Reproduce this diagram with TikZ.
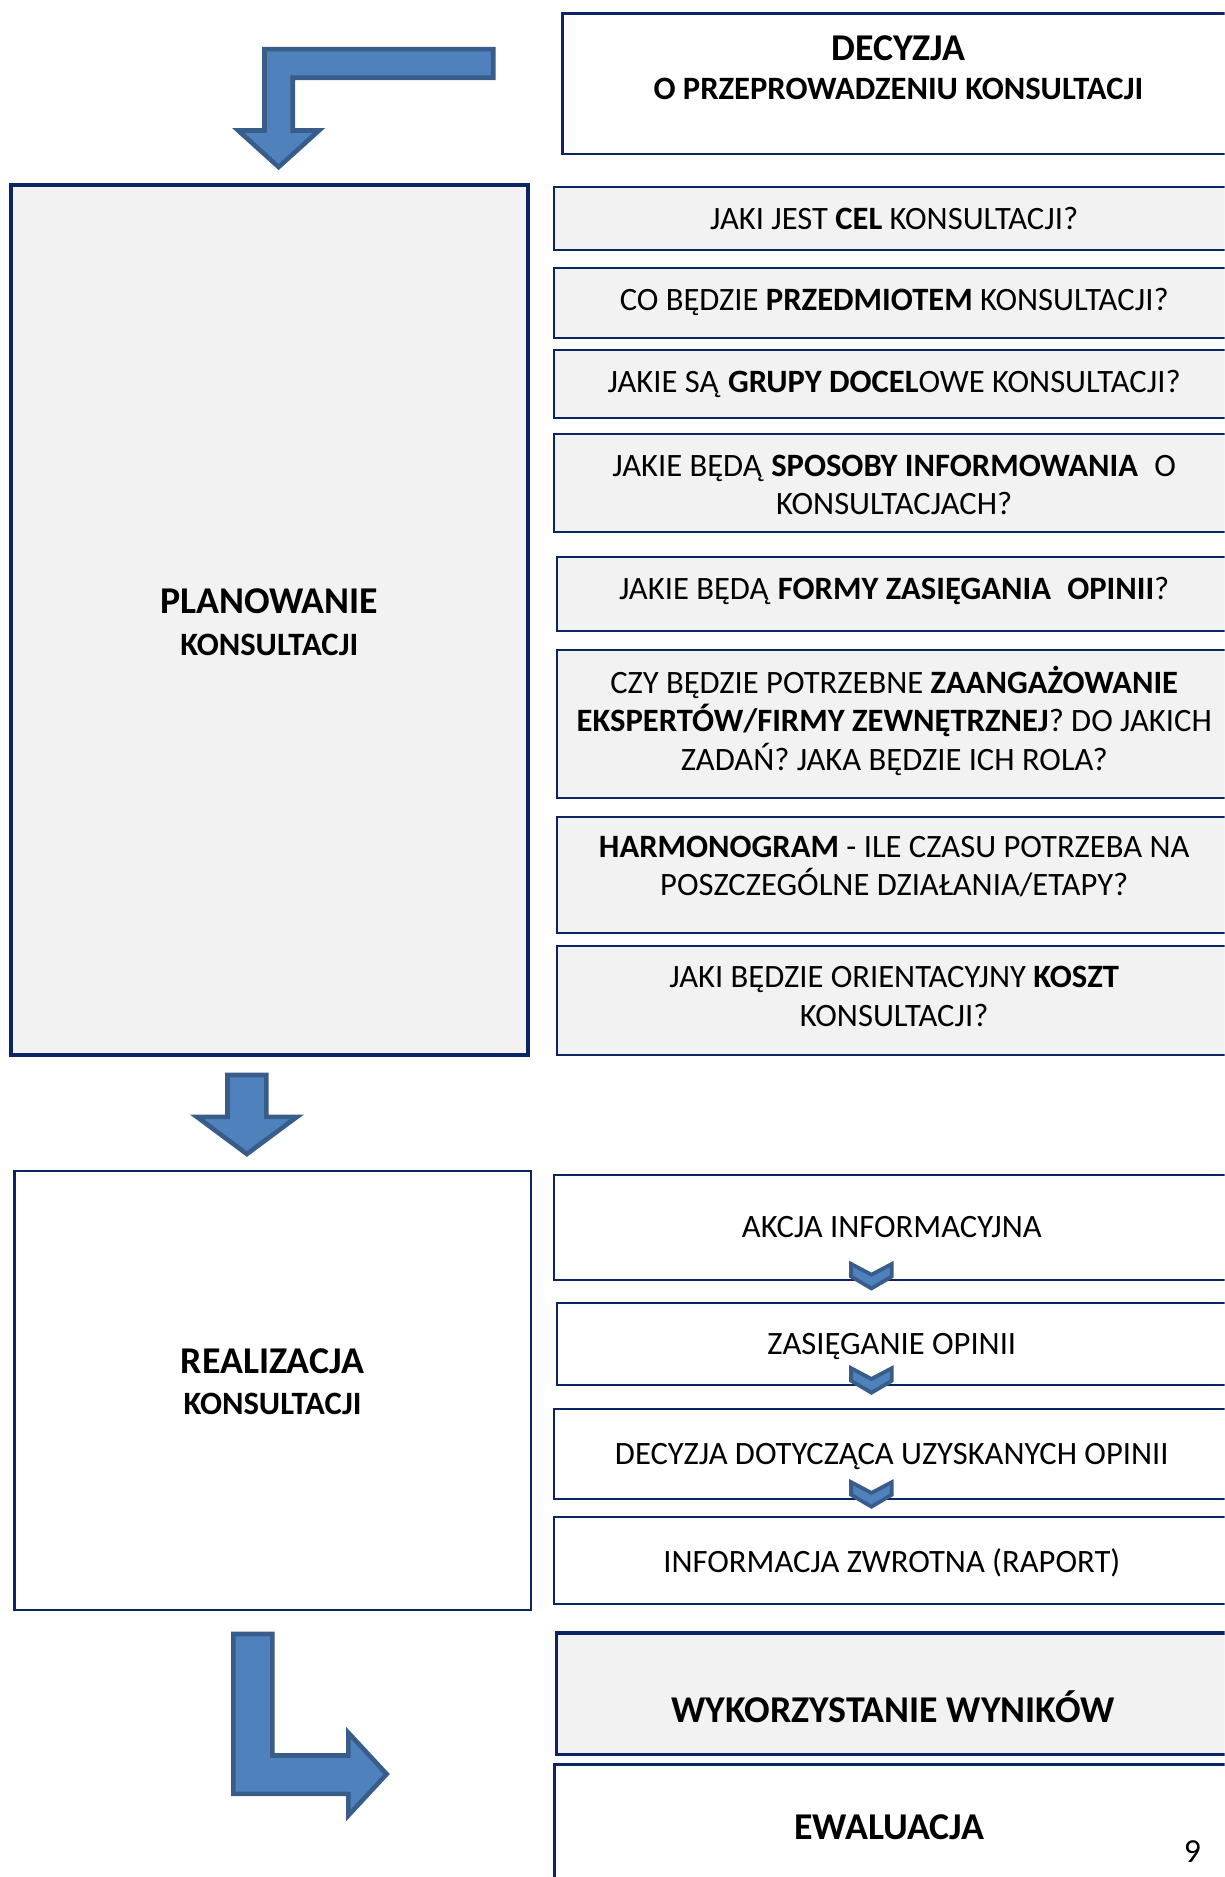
\documentclass[tikz,border=0pt]{standalone}
\usepackage{fontspec}
\setmainfont{Carlito}
\usetikzlibrary{positioning}
\usetikzlibrary{calc}
\usetikzlibrary{fit}

\definecolor{ramka}{HTML}{0B2464}
\definecolor{szary}{HTML}{F2F2F2}
\definecolor{niebieski}{HTML}{4F81BD}
\definecolor{obrys}{HTML}{385D8A}

\newcommand{\zwykly}{\fontsize{15.5}{18.3}\selectfont}
\newcommand{\duzy}{\fontsize{18}{21}\selectfont\bfseries}

\begin{document}
\begin{tikzpicture}[x=0.02cm, y=-0.02cm,
  pole/.style={draw=ramka, line width=0.95pt, fill=szary, inner sep=0pt},
  biale/.style={pole, fill=white},
  napis/.style={align=center, inner sep=0pt, font=\zwykly, execute at begin node=\strut, execute at end node=\strut},
  tytul/.style={napis, font=\duzy},
  blok/.style={fill=niebieski, draw=obrys, line width=2.2pt},
  szewron/.style={fill=niebieski, draw=obrys, line width=1.8pt}]
\clip (0,0) rectangle (1023,1568);
\fill[white] (0,0) rectangle (1023,1568);

\coordinate (os) at (728,0);% oś szewronów

% Decyzja
\node[biale, line width=1.3pt, fit={(470,11) (1031,128.6)}] (decyzja) {};
\node[tytul] (decyzjatxt) at (750.5,62) {DECYZJA\\[-2pt]{\fontsize{15.5}{18.3}\selectfont O PRZEPROWADZENIU KONSULTACJI}};
\draw[blok] (412,41) -- (221,41) -- (221,109) -- (199,109) -- (232.75,139.5) -- (266.5,109) -- (244.5,109) -- (244.5,65) -- (412,65) -- cycle;% strzałka w dół

% Planowanie
\node[pole, line width=2pt, fit={(9,154.5) (441,881)}] (planowanie) {};
\node[tytul] (planowanietxt) at (225,525) {PLANOWANIE\\[-1pt]{\fontsize{15.5}{18.3}\selectfont KONSULTACJI}};

\node[pole, fit={(463,156) (1031,209)}] (cel) {};
\node[napis] (celtxt) at (747,185) {JAKI JEST \textbf{CEL} KONSULTACJI?};
\node[pole, fit={(463,224) (1031,282.5)}] (przedmiot) {};
\node[napis] (przedmiottxt) at (747,253) {CO BĘDZIE \textbf{PRZEDMIOTEM} KONSULTACJI?};
\node[pole, fit={(463,292.3) (1031,349.3)}] (grupy) {};
\node[napis] (grupytxt) at (747,321.5) {JAKIE SĄ \textbf{GRUPY DOCEL}OWE KONSULTACJI?};
\node[pole, fit={(463,362.5) (1031,444)}] (sposoby) {};
\node[napis] (sposobytxt) at (747,410) {JAKIE BĘDĄ \textbf{SPOSOBY INFORMOWANIA}\enspace O\\KONSULTACJACH?};
\node[pole, fit={(465,465) (1031,526.7)}] (formy) {};
\node[napis] (formytxt) at (747,494) {JAKIE BĘDĄ \textbf{FORMY ZASIĘGANIA\enspace OPINII}?};
\node[pole, fit={(465,542.8) (1031,666.6)}] (eksperci) {};
\node[napis] (eksperecitxt) at (747,604.6) {CZY BĘDZIE POTRZEBNE \textbf{ZAANGAŻOWANIE}\\\textbf{EKSPERTÓW/FIRMY ZEWNĘTRZNEJ}? DO JAKICH\\ZADAŃ? JAKA BĘDZIE ICH ROLA?};
\node[pole, fit={(465,682.5) (1031,779)}] (harmonogram) {};
\node[napis] (harmonogramtxt) at (747,728) {\textbf{HARMONOGRAM} - ILE CZASU POTRZEBA NA\\POSZCZEGÓLNE DZIAŁANIA/ETAPY?};
\node[pole, fit={(465,790.5) (1031,881)}] (koszt) {};
\node[napis] (koszttxt) at (747,837) {JAKI BĘDZIE ORIENTACYJNY \textbf{KOSZT}\\KONSULTACJI?};

\draw[blok] (190,898) -- (222.5,898) -- (222.5,933) -- (248,933) -- (206.25,964) -- (164.5,933) -- (190,933) -- cycle;% strzałka w dół

% Realizacja
\node[biale, line width=1.2pt, fit={(12,978.4) (443.6,1345)}] (realizacja) {};
\node[tytul] (realizacjatxt) at (227.7,1160) {REALIZACJA\\[-1.5pt]{\fontsize{15.5}{18.3}\selectfont KONSULTACJI}};

\node[biale, fit={(463,981.2) (1031,1069.5)}] (akcja) {};
\node[napis] (akcjatxt) at (745,1027.5) {AKCJA INFORMACYJNA};
\node[biale, fit={(465,1088.4) (1031,1156.6)}] (zasieganie) {};
\node[napis] (zasieganietxt) at (745,1125) {ZASIĘGANIE OPINII};
\node[biale, fit={(463,1176.9) (1031,1251.8)}] (decyzjaop) {};
\node[napis] (decyzjaoptxt) at (745,1217) {DECYZJA DOTYCZĄCA UZYSKANYCH OPINII};
\node[biale, fit={(463,1267) (1031,1340.3)}] (raport) {};
\node[napis] (raporttxt) at (745,1307.5) {INFORMACJA ZWROTNA (RAPORT)};

\foreach \n in {akcja,zasieganie,decyzjaop}
  \draw[szewron] (\n.south -| os) ++(-17,-14.5) -- ++(17,9) -- ++(17,-9) -- ++(0,10.5) -- ++(-17,10) -- ++(-17,-10) -- cycle;

\draw[blok] (195,1365) -- (227.5,1365) -- (227.5,1466.5) -- (291,1466.5) -- (291,1447.5) -- (323,1482) -- (291,1516.5) -- (291,1498.5) -- (195,1498.5) -- cycle;% strzałka w prawo

% Wyniki i ewaluacja
\node[pole, line width=1.6pt, fit={(465,1364) (1031,1465.6)}] (wyniki) {};
\node[tytul] (wynikitxt) at (746,1431) {WYKORZYSTANIE WYNIKÓW};
\node[biale, line width=1.6pt, fit={(463,1474) (1031,1600)}] (ewaluacja) {};
\node[tytul] (ewaluacjatxt) at (743,1529) {EWALUACJA};

\node[inner sep=0pt, font=\fontsize{16}{19}\selectfont] (strona) at (996,1547) {9};
\end{tikzpicture}
\end{document}
